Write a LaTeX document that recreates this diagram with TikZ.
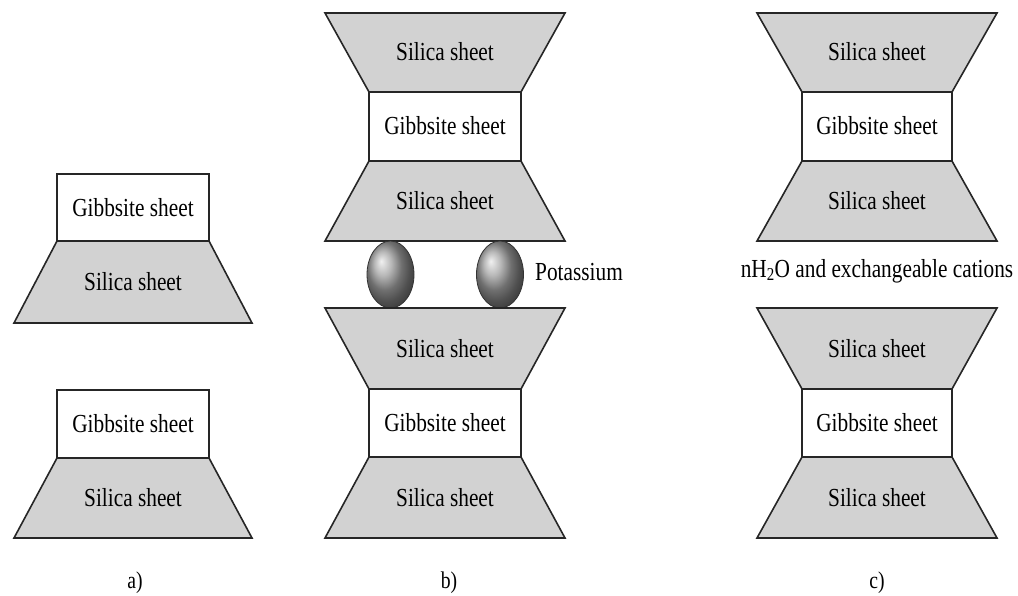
\documentclass[tikz,border=0pt]{standalone}
\usepackage{fontspec}
\setmainfont{Liberation Serif}
\usepackage{graphicx}
\newcommand{\sq}[1]{\scalebox{0.82}[1]{#1}}
\tikzset{
  silica/.style={fill=gray!35, draw=black!85, line width=1.6pt, line join=miter},
  gibbs/.style={fill=white, draw=black!85, line width=1.6pt},
  lbl/.style={font=\fontsize{26}{30}\selectfont, inner sep=0pt},
  panellbl/.style={font=\fontsize{24}{28}\selectfont, inner sep=0pt},
  kball/.style={ball color=gray!75},
}
\begin{document}
\begin{tikzpicture}[x=1pt,y=-1pt]
\useasboundingbox (0,0) rectangle (1018,595);
% ---------- panel a ----------
\draw[gibbs] (57,174) rectangle (209,241);
\draw[silica] (57,241) -- (209,241) -- (252,323) -- (14,323) -- cycle;
\node[lbl] (a1g) at (133,207.5) {\sq{Gibbsite sheet}};
\node[lbl] (a1s) at (133,282) {\sq{Silica sheet}};
\draw[gibbs] (57,390) rectangle (209,458);
\draw[silica] (57,458) -- (209,458) -- (252,538) -- (14,538) -- cycle;
\node[lbl] (a2g) at (133,424) {\sq{Gibbsite sheet}};
\node[lbl] (a2s) at (133,498) {\sq{Silica sheet}};
\node[panellbl] (la) at (135,583) {\sq{a)}};
% ---------- panel b ----------
\draw[silica] (325,13) -- (565,13) -- (521,92) -- (369,92) -- cycle;
\draw[gibbs] (369,92) rectangle (521,161);
\draw[silica] (369,161) -- (521,161) -- (565,241) -- (325,241) -- cycle;
\node[lbl] (b1) at (445,52) {\sq{Silica sheet}};
\node[lbl] (b2) at (445,126) {\sq{Gibbsite sheet}};
\node[lbl] (b3) at (445,201) {\sq{Silica sheet}};
\shade[kball] (390.5,274.5) ellipse [x radius=23.5, y radius=33.5];
\draw[black!80, line width=0.8pt] (390.5,274.5) ellipse [x radius=23.5, y radius=33.5];
\shade[kball] (500,274.5) ellipse [x radius=23.5, y radius=33.5];
\draw[black!80, line width=0.8pt] (500,274.5) ellipse [x radius=23.5, y radius=33.5];
\node[lbl, anchor=west] (pot) at (535,272) {\sq{Potassium}};
\draw[silica] (325,308) -- (565,308) -- (521,389) -- (369,389) -- cycle;
\draw[gibbs] (369,389) rectangle (521,457);
\draw[silica] (369,457) -- (521,457) -- (565,538) -- (325,538) -- cycle;
\node[lbl] (b4) at (445,349) {\sq{Silica sheet}};
\node[lbl] (b5) at (445,423) {\sq{Gibbsite sheet}};
\node[lbl] (b6) at (445,498) {\sq{Silica sheet}};
\node[panellbl] (lb) at (449,583) {\sq{b)}};
% ---------- panel c ----------
\draw[silica] (757,13) -- (997,13) -- (952,92) -- (802,92) -- cycle;
\draw[gibbs] (802,92) rectangle (952,161);
\draw[silica] (802,161) -- (952,161) -- (997,241) -- (757,241) -- cycle;
\node[lbl] (c1) at (877,52) {\sq{Silica sheet}};
\node[lbl] (c2) at (877,126) {\sq{Gibbsite sheet}};
\node[lbl] (c3) at (877,201) {\sq{Silica sheet}};
\node[lbl] (wat) at (877,271) {\sq{nH\textsubscript{2}O and exchangeable cations}};
\draw[silica] (757,308) -- (997,308) -- (952,389) -- (802,389) -- cycle;
\draw[gibbs] (802,389) rectangle (952,457);
\draw[silica] (802,457) -- (952,457) -- (997,538) -- (757,538) -- cycle;
\node[lbl] (c4) at (877,349) {\sq{Silica sheet}};
\node[lbl] (c5) at (877,423) {\sq{Gibbsite sheet}};
\node[lbl] (c6) at (877,498) {\sq{Silica sheet}};
\node[panellbl] (lc) at (877,583) {\sq{c)}};
\end{tikzpicture}
\end{document}
